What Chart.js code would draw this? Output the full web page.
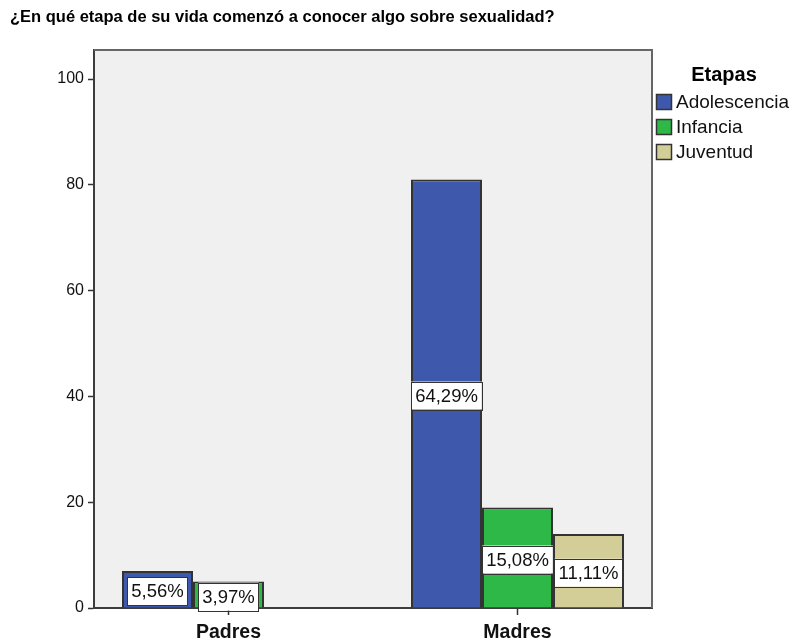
<!DOCTYPE html>
<html>
<head>
<meta charset="utf-8">
<script src="https://cdn.jsdelivr.net/npm/chart.js@4/dist/chart.umd.min.js"></script>
<style>
  html, body { margin: 0; padding: 0; background: #ffffff; }
  #wrap { width: 792px; height: 640px; position: relative; }
</style>
</head>
<body>
<div id="wrap"><canvas id="c" width="792" height="640"></canvas></div>
<script>
// ---- data ----
const chartTitle = '¿En qué etapa de su vida comenzó a conocer algo sobre sexualidad?';
const legendTitle = 'Etapas';
const categories = ['Padres', 'Madres'];
const seriesNames = ['Adolescencia', 'Infancia', 'Juventud'];
const adolescencia = [7, 81];
const infancia = [5, 19];
const juventud = [0, 14];
const pctAdolescencia = [5.56, 64.29];
const pctInfancia = [3.97, 15.08];
const pctJuventud = [null, 11.11];
const yTicks = [0, 20, 40, 60, 80, 100];
const yMax = 105.5;
const xMin = -0.4654, xMax = 1.4654;

const colors = ['#3e58ac', '#2eb848', '#d3ce97'];
const FONT = "'Liberation Sans', Arial, sans-serif";

const fmtPct = v => v.toFixed(2).replace('.', ',') + '%';

const plotBg = {
  id: 'plotBg',
  beforeDraw(chart) {
    const a = chart.chartArea, ctx = chart.ctx;
    ctx.save();
    ctx.fillStyle = '#f0f0f0';
    ctx.fillRect(a.left, a.top, a.right - a.left, a.bottom - a.top);
    ctx.restore();
  },
  afterDatasetsDraw(chart) {
    const a = chart.chartArea, ctx = chart.ctx;
    ctx.save();
    ctx.strokeStyle = '#666666';
    ctx.lineWidth = 2;
    ctx.beginPath();
    ctx.moveTo(a.left, a.top);
    ctx.lineTo(a.right, a.top);
    ctx.lineTo(a.right, a.bottom);
    ctx.stroke();
    ctx.restore();
  }
};

const valueLabels = {
  id: 'valueLabels',
  afterDatasetsDraw(chart) {
    const ctx = chart.ctx;
    ctx.save();
    ctx.font = '18.5px ' + FONT;
    ctx.textAlign = 'center';
    ctx.textBaseline = 'middle';
    chart.data.datasets.forEach((ds, i) => {
      const meta = chart.getDatasetMeta(i);
      meta.data.forEach((el, j) => {
        const p = ds.pct[j];
        if (p == null) return;
        const txt = fmtPct(p);
        const w = ctx.measureText(txt).width + 8;
        const h = 28;
        const cx = el.x;
        const cy = (el.y + el.base) / 2 + 2;
        ctx.fillStyle = '#ffffff';
        ctx.fillRect(cx - w / 2, cy - h / 2, w, h);
        ctx.strokeStyle = '#333333';
        ctx.lineWidth = 1;
        ctx.strokeRect(Math.round(cx - w / 2) + 0.5, Math.round(cy - h / 2) + 0.5, Math.round(w), h);
        ctx.fillStyle = '#111111';
        ctx.fillText(txt, cx, cy + 1);
      });
    });
    ctx.restore();
  }
};

const sideLegend = {
  id: 'sideLegend',
  afterDraw(chart) {
    const a = chart.chartArea, ctx = chart.ctx;
    const x0 = a.right + 4;
    ctx.save();
    ctx.fillStyle = '#000000';
    ctx.font = 'bold 20px ' + FONT;
    ctx.textAlign = 'center';
    ctx.textBaseline = 'middle';
    ctx.fillText(legendTitle, x0 + 68, a.top + 25);
    ctx.font = '19px ' + FONT;
    ctx.textAlign = 'left';
    chart.data.datasets.forEach((ds, i) => {
      const y = a.top + 44 + i * 25;
      ctx.fillStyle = ds.backgroundColor;
      ctx.fillRect(x0, y, 16, 16);
      ctx.strokeStyle = '#333333';
      ctx.lineWidth = 1.5;
      ctx.strokeRect(x0 + 0.5, y + 0.5, 15, 15);
      ctx.fillStyle = '#111111';
      ctx.fillText(ds.label, x0 + 20, y + 9);
    });
    ctx.restore();
  }
};

const seriesData = [adolescencia, infancia, juventud];
const seriesPct = [pctAdolescencia, pctInfancia, pctJuventud];

new Chart(document.getElementById('c'), {
  type: 'bar',
  data: {
    datasets: seriesNames.map((name, i) => ({
      label: name,
      data: seriesData[i].map((v, j) => ({ x: j, y: v })),
      pct: seriesPct[i],
      backgroundColor: colors[i],
      borderColor: '#333333',
      borderWidth: 2,
      categoryPercentage: 0.737,
      barPercentage: 1.0
    }))
  },
  options: {
    responsive: false,
    animation: false,
    layout: { padding: { left: 10, right: 140, top: 0, bottom: 0 } },
    plugins: {
      legend: { display: false },
      tooltip: { enabled: false },
      title: {
        display: true,
        text: chartTitle,
        align: 'start',
        color: '#000000',
        font: { family: FONT, weight: 'bold', size: 16.5 },
        padding: { top: 8, bottom: 22.2 }
      }
    },
    scales: {
      x: {
        type: 'linear',
        min: xMin,
        max: xMax,
        offset: false,
        afterFit(scale) { scale.height = 32; },
        afterBuildTicks(scale) { scale.ticks = categories.map((c, j) => ({ value: j })); },
        grid: { display: true, offset: false, drawOnChartArea: false, tickLength: 7, tickColor: '#333333', tickWidth: 1.5 },
        border: { display: true, color: '#3c3c3c', width: 2 },
        ticks: {
          color: '#111111',
          font: { family: FONT, weight: 'bold', size: 19.5 },
          padding: 6,
          callback: v => categories[v]
        }
      },
      y: {
        min: 0,
        max: yMax,
        afterFit(scale) { scale.width = 84; },
        afterBuildTicks(scale) { scale.ticks = yTicks.map(v => ({ value: v })); },
        grid: { display: true, drawOnChartArea: false, tickLength: 6, tickColor: '#333333', tickWidth: 1.5 },
        border: { display: true, color: '#3c3c3c', width: 2 },
        ticks: { color: '#111111', font: { family: FONT, size: 16 }, padding: 4 }
      }
    }
  },
  plugins: [plotBg, valueLabels, sideLegend]
});
</script>
</body>
</html>
